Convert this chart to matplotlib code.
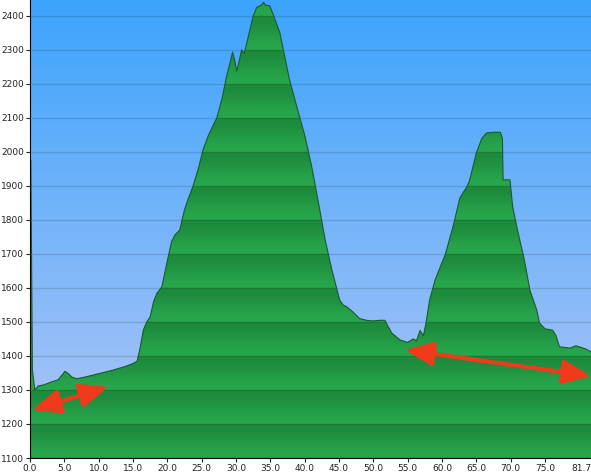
import numpy as np
import matplotlib
matplotlib.use("Agg")
import matplotlib.pyplot as plt

# ---- data ----
km = [0, 0.12, 0.35, 0.7, 1.2, 2.0, 2.9, 4.1, 4.7, 5.1, 5.6, 6.1, 6.8, 8.0, 9.0, 10.0,
      11.0, 12.0, 13.0, 14.0, 15.0, 15.6, 16.0, 16.5, 17.0, 17.5, 18.0, 18.5, 19.2,
      20.0, 20.6, 21.1, 21.8, 22.5, 23.0, 23.7, 24.5, 25.2, 26.0, 27.2, 28.0, 28.6,
      29.1, 29.5, 29.8, 30.1, 30.5, 30.8, 31.2, 31.8, 32.5, 33.0, 33.7, 34.0, 34.3,
      34.9, 35.5, 36.4, 37.0, 37.8, 38.5, 39.3, 40.0, 41.0, 42.2, 43.0, 44.0, 45.1,
      45.6, 46.1, 47.0, 48.0, 49.0, 50.0, 51.0, 51.7, 52.2, 52.7, 53.9, 55.0, 55.8,
      56.3, 56.8, 57.3, 57.7, 58.2, 59.0, 60.5, 61.6, 62.6, 63.6, 64.0, 65.0, 65.8,
      66.5, 67.5, 68.5, 68.8, 68.9, 69.9, 70.3, 71.0, 72.0, 72.8, 73.8, 74.2, 75.0,
      76.1, 76.6, 77.1, 78.0, 78.6, 79.5, 80.0, 81.0, 81.7]
elev = [1975, 1975, 1360, 1300, 1312, 1315, 1322, 1330, 1345, 1355, 1348, 1338, 1333,
        1338, 1343, 1348, 1353, 1358, 1364, 1370, 1378, 1385, 1420, 1476, 1500, 1515,
        1560, 1585, 1603, 1680, 1735, 1756, 1770, 1830, 1860, 1897, 1950, 2006, 2050,
        2100, 2160, 2220, 2260, 2294, 2270, 2238, 2270, 2300, 2290, 2340, 2400, 2425,
        2432, 2440, 2432, 2430, 2400, 2350, 2290, 2212, 2160, 2100, 2050, 1960, 1830,
        1740, 1650, 1565, 1550, 1545, 1530, 1510, 1505, 1503, 1505, 1505, 1485, 1467,
        1447, 1440, 1450, 1445, 1475, 1460, 1500, 1565, 1624, 1700, 1780, 1865, 1897,
        1915, 1997, 2040, 2056, 2058, 2058, 2040, 1918, 1918, 1838, 1770, 1682, 1594,
        1535, 1497, 1480, 1476, 1460, 1427, 1425, 1423, 1430, 1427, 1420, 1412]

x_ticks = [0, 5, 10, 15, 20, 25, 30, 35, 40, 45, 50, 55, 60, 65, 70, 75, 81.7]
x_tick_labels = ["0.0", "5.0", "10.0", "15.0", "20.0", "25.0", "30.0", "35.0", "40.0",
                 "45.0", "50.0", "55.0", "60.0", "65.0", "70.0", "75.0", "81.7"]
y_ticks = list(range(1100, 2401, 100))

# double-headed arrows: (x0, y0) <-> (x1, y1)
arrow_start = [(0.3, 1241), (54.6, 1418)]
arrow_end = [(11.4, 1309), (81.7, 1341)]

XMIN, XMAX, YMIN, YMAX = 0, 81.7, 1100, 2447

fig = plt.figure(figsize=(5.91, 4.75), dpi=100)
ax = fig.add_axes([30 / 591, 17 / 475, 1 - 30 / 591, 1 - 17 / 475])
ax.set_xlim(XMIN, XMAX)
ax.set_ylim(YMIN, YMAX)

# background vertical blue gradient
n = 400
top_c = np.array([60, 164, 252]) / 255
bot_c = np.array([178, 198, 246]) / 255
f = np.linspace(0, 1, n)[:, None]  # 0 bottom -> 1 top
bg = bot_c * (1 - f) + top_c * f
ax.imshow(bg[:, None, :], extent=[XMIN, XMAX, YMIN, YMAX], origin="lower",
          aspect="auto", zorder=0, interpolation="bilinear")

# green banded fill (subtle bands per 100 m)
ys = np.linspace(YMIN, YMAX, 1400)
t = ((ys - YMIN) % 100) / 100.0
t = 0.5 - 0.5 * np.cos(np.pi * t) ** 1  # smooth ramp
light = np.array([40, 166, 76]) / 255
dark = np.array([29, 138, 60]) / 255
g = light[None, :] * (1 - t[:, None]) + dark[None, :] * t[:, None]
poly = ax.fill_between(km, elev, YMIN, color="none", lw=0)
im = ax.imshow(g[:, None, :], extent=[XMIN, XMAX, YMIN, YMAX], origin="lower",
               aspect="auto", zorder=1, interpolation="bilinear")
im.set_clip_path(poly.get_paths()[0], transform=ax.transData)

# grid lines
for yv in y_ticks:
    ax.axhline(yv, color=(0, 0, 0, 0.13), lw=1.0, zorder=2)

# outline
ax.plot(km, elev, color="#1b5a2e", lw=0.8, zorder=3)

# arrows
for (x0, y0), (x1, y1) in zip(arrow_start, arrow_end):
    ax.annotate("", xy=(x1, y1), xytext=(x0, y0), annotation_clip=False,
                arrowprops=dict(arrowstyle="<|-|>,head_length=0.85,head_width=0.36",
                                color="#f03a1c", lw=3, mutation_scale=20,
                                shrinkA=0, shrinkB=0),
                zorder=5)

# axes styling
for s in ["top", "right"]:
    ax.spines[s].set_visible(False)
ax.spines["left"].set_color("black")
ax.spines["bottom"].set_color("black")
ax.spines["left"].set_zorder(6)
ax.spines["bottom"].set_zorder(6)

ax.set_yticks(y_ticks)
ax.set_yticklabels([str(v) for v in y_ticks])
ax.set_xticks(x_ticks)
ax.set_xticklabels(x_tick_labels)
ax.tick_params(axis="both", labelsize=6.5, colors="#222222", length=3, width=0.8, pad=1.5)
labels = ax.get_xticklabels()
labels[-1].set_horizontalalignment("right")

fig.savefig("out.png", dpi=100)
